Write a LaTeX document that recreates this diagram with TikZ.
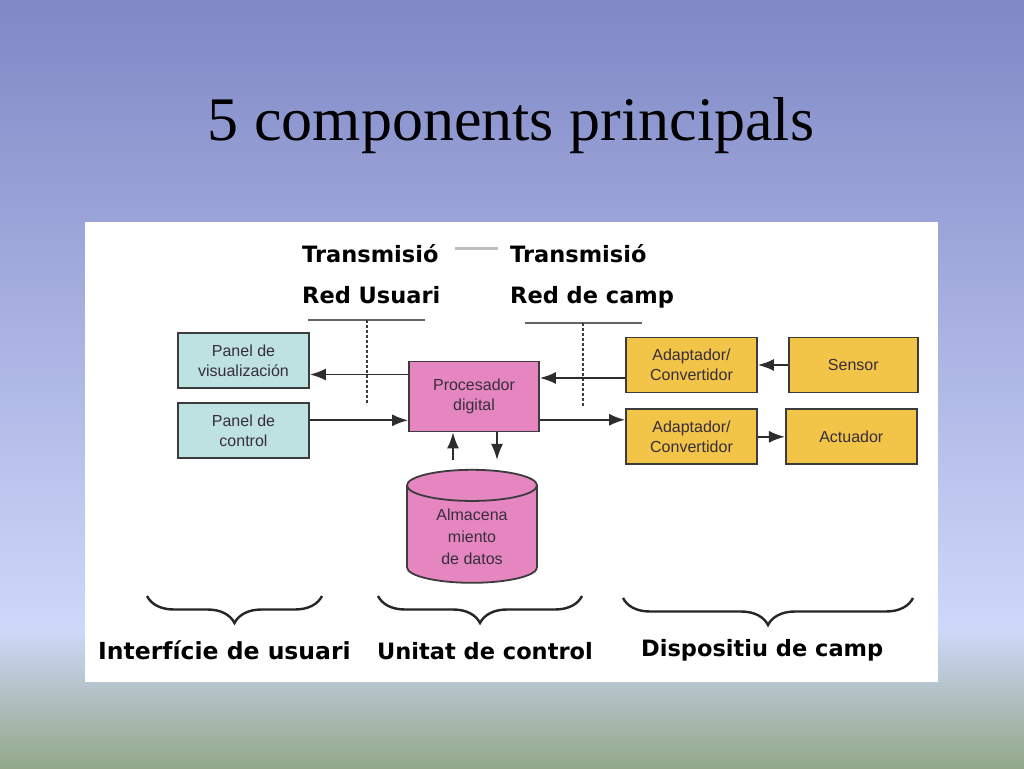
\documentclass[tikz,border=0pt]{standalone}
\usepackage{fontspec}
\setmainfont{Liberation Serif}
\newfontfamily\boxfont{Liberation Sans}
\newfontfamily\handfont{DejaVu Sans}
\usetikzlibrary{positioning}
\usetikzlibrary{shapes.geometric}
\usetikzlibrary{arrows.meta}
\usetikzlibrary{decorations.pathreplacing}
\definecolor{bgtop}{RGB}{128,136,198}
\definecolor{bgmid}{RGB}{206,216,250}
\definecolor{bgbot}{RGB}{146,168,136}
\definecolor{boxline}{RGB}{60,60,60}
\definecolor{boxtext}{RGB}{55,45,60}
\definecolor{cyanbox}{RGB}{190,226,226}
\definecolor{pinkbox}{RGB}{230,134,192}
\definecolor{yellowbox}{RGB}{242,196,72}
\definecolor{linkcol}{RGB}{45,45,45}

\begin{document}
\begin{tikzpicture}[x=1pt,y=-1pt,>={Latex[length=16pt,width=12pt]},
	rect/.style={draw=boxline,
				rectangle,
				line width=1.8pt,
				minimum width=131pt,
				minimum height=55pt,
				text=boxtext,
				font=\boxfont\fontsize{16}{20}\selectfont,
				align=center},
	hand/.style={font=\handfont\bfseries\fontsize{22.5}{26}\selectfont, inner sep=0pt},
	link/.style={draw=linkcol, line width=1.8pt},
	bus/.style={draw=boxline!80, line width=1.6pt},
	brc/.style={draw=black!85, line width=2.4pt, decorate, decoration={brace, mirror, amplitude=27pt}}]
	% background and panel
	\useasboundingbox (0,0) rectangle (1024,768);
	\shade[top color=bgtop, bottom color=bgmid] (0,0) rectangle (1024,630);
	\shade[top color=bgmid, bottom color=bgbot] (0,629) rectangle (1024,768);
	\fill[white] (85,222) rectangle (938,682);
	\node[font=\fontsize{62}{70}\selectfont, anchor=base] (title) at (511,140) {5 components principals};
	% networks
	\node[hand, anchor=base west] (tU) at (302,262) {Transmisió};
	\node[hand, anchor=base west] (rU) at (302,303) {Red Usuari};
	\node[hand, anchor=base west] (tC) at (510,262) {Transmisió};
	\node[hand, anchor=base west] (rC) at (510,303) {Red de camp};
	\draw[draw=black!25, line width=3pt, shorten <=16pt, shorten >=12pt] ([yshift=5pt]tU.east) -- ([yshift=5pt]tC.west);
	\coordinate (busU) at (367,320);
	\coordinate (busC) at (583,323);
	\draw[bus] (busU) ++(-59,0) -- ++(117,0);
	\draw[bus] (busC) ++(-58,0) -- ++(117,0);
	\draw[draw=boxline, line width=1.2pt, dash pattern=on 3pt off 2pt] (busU) -- ++(0,85);
	\draw[draw=boxline, line width=1.2pt, dash pattern=on 3pt off 2pt] (busC) -- ++(0,84);
	% blocks
	\node[rect, fill=cyanbox] (vis) at (243.5,360.5) {Panel de\\visualización};
	\node[rect, fill=cyanbox, below=13pt of vis] (ctrl) {Panel de\\control};
	\node[rect, fill=pinkbox, minimum width=130pt, minimum height=70pt] (proc) at (474,396.5) {Procesador\\digital};
	\node[rect, fill=yellowbox] (ad1) at (691.5,365) {Adaptador/\\Convertidor};
	\node[rect, fill=yellowbox, right=30pt of ad1, minimum width=129pt] (sens) {Sensor};
	\node[rect, fill=yellowbox, below=15pt of ad1] (ad2) {Adaptador/\\Convertidor};
	\node[rect, fill=yellowbox, right=27pt of ad2] (act) {Actuador};
	\node[cylinder, shape border rotate=90, aspect=0.4, draw=boxline, line width=1.8pt, fill=pinkbox,
		minimum width=130pt, minimum height=113pt, text=boxtext, align=center,
		font=\boxfont\fontsize{16}{22}\selectfont] (store) at (472,537) {Almacena\\miento\\de datos};
	% connections
	\draw[link,->] ([yshift=-14pt]vis.east -| proc.west) -- ([yshift=-14pt]vis.east);
	\draw[link,->] ([yshift=10pt]ctrl.east) -- ([yshift=10pt]ctrl.east -| proc.west);
	\draw[link,->] ([yshift=-13pt]ad1.west) -- ([yshift=-13pt]ad1.west -| proc.east);
	\draw[link,->] ([yshift=17pt]ad2.west -| proc.east) -- ([yshift=17pt]ad2.west);
	\draw[link,->] (sens) -- (ad1);
	\draw[link,->] (ad2) -- (act);
	\draw[link,->, shorten <=9pt] ([xshift=-19pt]store.north) -- ([xshift=-19pt]store.north |- proc.south);
	\draw[link,->, shorten >=9pt] ([xshift=23pt]proc.south) -- ([xshift=23pt]proc.south |- store.north);
	% groups
	\draw[brc] (147,596) -- (322,596);
	\draw[brc] (378,596) -- (582,596);
	\draw[brc] (623,598) -- (913,598);
	\node[hand, font=\handfont\bfseries\fontsize{23.5}{26}\selectfont, anchor=base west] (gU) at (98,659) {Interfície de usuari};
	\node[hand, anchor=base west] (gC) at (377,659) {Unitat de control};
	\node[hand, anchor=base west] (gD) at (641,656) {Dispositiu de camp};
\end{tikzpicture}
\end{document}
